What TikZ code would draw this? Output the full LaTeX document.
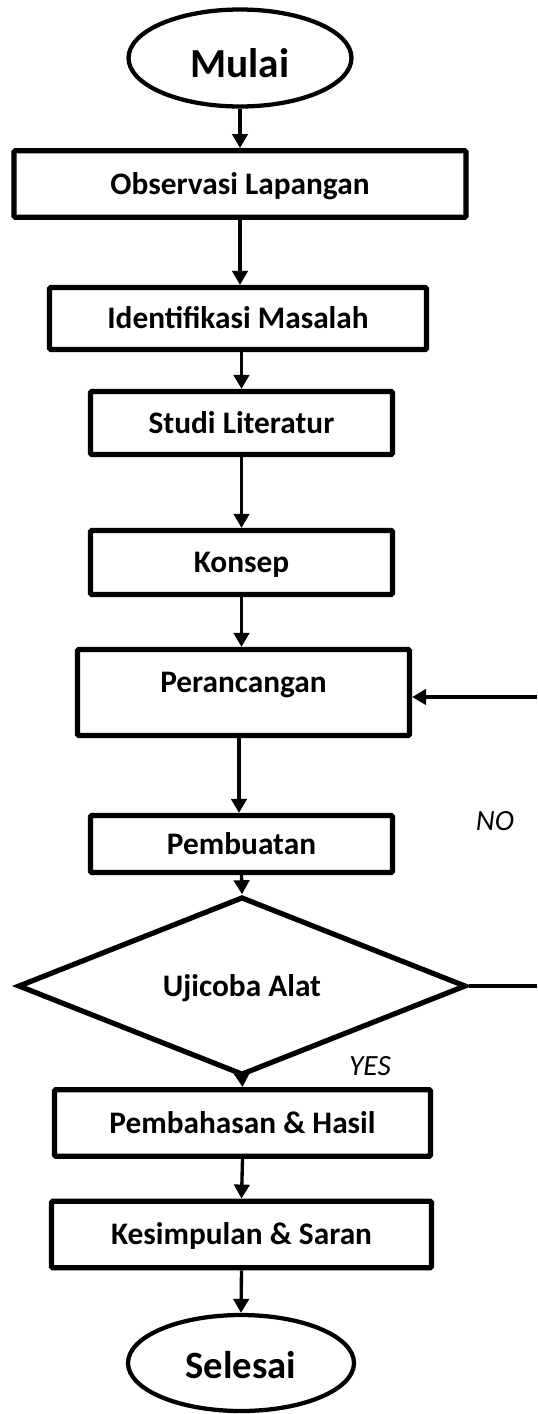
\documentclass[tikz,border=0pt]{standalone}
\usepackage{fontspec}
\setmainfont{Carlito}
\usetikzlibrary{shapes.geometric,arrows.meta}
\begin{document}
\begin{tikzpicture}[x=0.75pt,y=-0.75pt,
  boxstyle/.style={draw=black,line width=3.9pt,rectangle,rounded corners=1pt,inner sep=0pt,
     font=\bfseries\fontsize{23.5pt}{28pt}\selectfont,text height=15.2pt,text depth=0pt},
  ovalstyle/.style={draw=black,line width=3.2pt,ellipse,inner sep=0pt,text depth=0pt},
  decision/.style={draw=black,line width=3.9pt,diamond,inner sep=0pt,
     font=\bfseries\fontsize{23.5pt}{28pt}\selectfont,text height=15.2pt,text depth=0pt},
  flow/.style={line width=2.5pt,-{Triangle[length=10.5pt,width=11.5pt]}},
  plainline/.style={line width=2.5pt},
  answer/.style={font=\itshape\fontsize{22pt}{26pt}\selectfont,inner sep=0pt}]
\useasboundingbox (0,0) rectangle (537,1414);
\fill[white] (0,0) rectangle (537,1414);

\node[ovalstyle,minimum width=167.25pt,minimum height=72.75pt,
  font=\bfseries\fontsize{31pt}{36pt}\selectfont,text height=28.5pt] (start) at (240,58) {Mulai};
\node[boxstyle,minimum width=339pt,minimum height=50pt] (obs) at (240,184) {Observasi Lapangan};
\node[boxstyle,minimum width=282.75pt,minimum height=46.5pt] (idm) at (238,318.5) {Identifikasi Masalah};
\node[boxstyle,minimum width=226.5pt,minimum height=47.25pt] (stl) at (241.5,423) {Studi Literatur};
\node[boxstyle,minimum width=226.5pt,minimum height=48pt] (kon) at (241.5,562.5) {Konsep};
\node[boxstyle,minimum width=249pt,minimum height=64.5pt,text depth=15pt] (per) at (243.5,692.5) {Perancangan};
\node[boxstyle,minimum width=226.5pt,minimum height=42.75pt] (pem) at (241.5,844) {Pembuatan};
\node[decision,minimum width=336pt,minimum height=97.5pt] (uji) at (242,986) {Ujicoba Alat};
\node[boxstyle,minimum width=282pt,minimum height=50pt] (bah) at (242.5,1123) {Pembahasan \& Hasil};
\node[boxstyle,minimum width=285pt,minimum height=50pt] (kes) at (241.5,1234.5) {Kesimpulan \& Saran};
\node[ovalstyle,minimum width=169.5pt,minimum height=72pt,
  font=\bfseries\fontsize{29pt}{34pt}\selectfont,text height=22.5pt] (end) at (241,1363) {Selesai};

\node[answer] (no) at (495,821) {NO};
\node[answer] (yes) at (370,1066) {YES};

\coordinate (fbout) at (537,987);
\coordinate (fbin) at (537,697);

\draw[flow] (start.south) -- (obs.north);
\draw[flow] (obs.south) -- (idm.north -| obs.south);
\draw[flow] (stl.north |- idm.south) -- (stl.north);
\draw[flow] (stl.south) -- (kon.north);
\draw[flow] (kon.south) -- (per.north -| kon.south);
\draw[flow] (per.south -| 239,0) -- (pem.north -| 239,0);
\draw[flow] (pem.south) -- (uji.north);
\draw[flow] (uji.south) -- (bah.north);
\draw[flow] (bah.south) -- (kes.north);
\draw[flow] (kes.south) -- (end.north);
\draw[plainline] (uji.east) -- (uji.east -| fbout);
\draw[flow] (fbin) -- (fbin -| per.east);
\end{tikzpicture}
\end{document}
